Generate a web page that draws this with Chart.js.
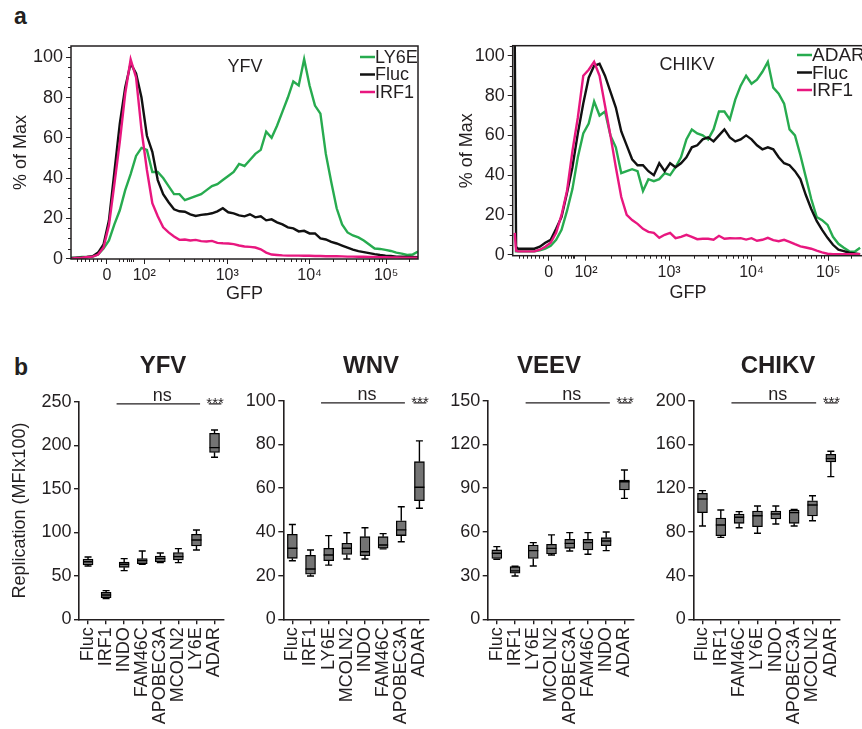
<!DOCTYPE html>
<html><head><meta charset="utf-8">
<script src="https://cdn.jsdelivr.net/npm/chart.js@4.4.1/dist/chart.umd.min.js"></script>
<style>
html,body{margin:0;padding:0;background:#fff;overflow:hidden;width:862px;height:729px;position:relative;font-family:"Liberation Sans",Arial,sans-serif;}
canvas{position:absolute;}
.lbl{position:absolute;font-weight:bold;font-size:23px;color:#231f20;line-height:1;}
</style></head><body>
<div class="lbl" style="left:14px;top:5px">a</div>
<div class="lbl" style="left:14px;top:356px">b</div>
<canvas id="hYFV" width="440" height="312" style="left:0px;top:0px"></canvas>
<canvas id="hCHIKV" width="440" height="312" style="left:440px;top:-1px"></canvas>
<canvas id="bYFV" width="240" height="389" style="left:0px;top:340px"></canvas>
<canvas id="bWNV" width="215" height="389" style="left:230px;top:340px"></canvas>
<canvas id="bVEEV" width="210" height="389" style="left:440px;top:340px"></canvas>
<canvas id="bCHIKV" width="217" height="389" style="left:645px;top:340px"></canvas>
<script>
const FONT = '"Liberation Sans", Arial, Helvetica, sans-serif';
const TXT = '#231f20';
const GREEN = '#27ab4f';
const PINK = '#e8177f';
const BLACK = '#111111';

// ---------- histogram axis (display channels of a biexponential GFP axis) ----------
const histTickValues = [106, 216, 461, 704, 930];
const histTickLabels = ['0', '10²', '10³', '10⁴', '10⁵'];
const histMinorTicks = [18, 30, 42, 54, 66, 78, 90, 142, 154, 164, 171, 177, 182,
  290, 333, 364, 387, 406, 422, 436, 449,
  533, 575, 605, 629, 648, 664, 678, 690,
  772, 811, 840, 862, 880, 895, 908, 919, 998];
const histYTicks = [0, 20, 40, 60, 80, 100];
const histYMinor = [5, 10, 15, 25, 30, 35, 45, 50, 55, 65, 70, 75, 85, 90, 95, 105];

// YFV histogram
const yfvChannels = [0,16,32,48,64,80,96,112,128,144,160,176,192,208,224,240,256,272,288,304,320,336,352,368,384,400,416,432,448,464,480,496,512,528,544,560,576,592,608,624,640,656,672,688,704,720,736,752,768,784,800,816,832,848,864,880,896,912,928,944,960,976,992,1008,1024];
const yfvLY6E = [0.3,0.5,0.8,0.8,1,2,5,9,17,24, 34,42,51,55,54,43,43,40,36,32, 32,29,30,31,32,34,36,37,39,41, 43,47,46,49,52,54,63,60,66,73, 80,88,86,99,86,76,72,52,38,25, 17,13,11.5,10.5,9,7,5,4.8,4.3,3.8, 3,2.5,1.8,2,3.5];
const yfvFluc = [0.3,0.5,0.5,0.8,1.2,3,7,19,43,67, 85,97,92,80,61,53,39,32,28,24.5, 23.5,23.3,22,21.2,21.7,22,22.5,23.5,25,23, 22.5,21.5,21,22,20.5,21,19,19.5,18,17, 15.5,15,13.5,13.8,12.5,12.5,10,9.5,8.3,7.5, 6.5,5.5,4.5,3.7,3.2,2.7,2.2,1.8,1.5,1.3, 1,1,0.8,0.8,0.7];
const yfvIRF1 = [0,0.3,0.5,0.8,1,2,5.5,16.5,37,58, 82,99,90,64,44,27.5,21,15.5,13,11, 9.3,9.5,9,9.3,8.7,8.5,8.8,7.8,7.6,7.5, 7.2,6.5,6,5.8,5.5,4.6,3,2,1.8,1.6, 1.5,1.5,1.5,1.4,1.4,1.3,1.3,1.2,1.2,1.2, 1.1,1,1,0.9,0.9,0.8,0.8,0.7,0.7,0.6, 0.6,0.5,0.5,0.5,0.5];

// CHIKV histogram
const chikvChannels = [6,10,16,32,48,64,80,96,112,128,144,160,176,192,208,224,240,256,272,288,304,320,336,352,368,384,400,416,432,448,464,480,496,512,528,544,560,576,592,608,624,640,656,672,688,704,720,736,752,768,784,800,816,832,848,864,880,896,912,928,944,960,976,992,1008,1024];
const chikvADAR = [1.7,1.7, 1.7,1.7,1.7,1.7,2.2,3,4.5,7.5,12.5, 22,33,49,61,66,77,70,72,60,54, 41,42,43,42,32,38,37,38,41,40, 44,49,58,63,61,60,58,63,72,72, 68,78,85,90,86,88,92,97,84,81, 76,63,60,50,39,28,19,17.4,15,9, 5.5,3.5,1.7,1.5,3.5];
const chikvFluc = [110,4, 3,3,3,3,4,6,7.5,13,19, 31,44,61,76,89,95,96,90,82,74, 62,55,48,45,45,42,40,46,42,46, 44,46,49,54,55,58,59,57,60,63, 59,57,58,60,58,55,53,54,53,49, 46,45,42,38,30,23,17,12.5,8.5,5, 2.5,1.8,1,0.6,0.3];
const chikvIRF1 = [11,2, 1.7,1.7,1.7,1.7,2.5,4,6,11,20, 32,52,69,90,93,97,90,75,60,44, 29,20,17.4,15.5,13,11.5,11,8.5,10,11, 8.3,9,10,9,7.8,8,8,7.5,9.5,8, 8.3,8.2,8.3,7.6,8.3,7,7.5,8.5,7.3,6.8, 7.5,6.5,5.3,4.2,3.6,3,2,1.2,0.5,0.3, 0.3,0.3,0.3,0.3,0.3];

// ---------- box plots (Replication, MFI x100) ----------
const yfvCats = ['Fluc','IRF1','INDO','FAM46C','APOBEC3A','MCOLN2','LY6E','ADAR'];
const yfvMin = [61.3,23.7,55.9,63.2,65.1,65.1,79.6,186.1];
const yfvQ1  = [62.4,24.9,59.7,63.9,65.8,68.1,84.2,191.8];
const yfvMed = [66.2,27.9,63.2,67.4,69.7,72.0,91.1,197.2];
const yfvQ3  = [69.3,31.0,65.8,69.7,72.7,76.6,97.6,213.6];
const yfvMax = [71.6,32.9,69.7,78.5,76.2,81.2,102.6,217.5];
const yfvTicks = [0,50,100,150,200,250];

const wnvCats = ['Fluc','IRF1','LY6E','MCOLN2','INDO','FAM46C','APOBEC3A','ADAR'];
const wnvMin = [26.8,19.8,24.8,27.6,27.6,32.2,35.5,50.8];
const wnvQ1  = [27.9,20.6,26.8,29.7,29.1,32.5,38.3,54.3];
const wnvMed = [32.5,23.0,29.4,32.5,30.9,34.0,40.9,60.4];
const wnvQ3  = [38.9,29.3,32.5,34.8,37.8,37.8,45.1,72.1];
const wnvMax = [43.4,31.7,38.3,39.6,41.9,39.2,51.5,81.6];
const wnvTicks = [0,20,40,60,80,100];

const veevCats = ['Fluc','IRF1','LY6E','MCOLN2','APOBEC3A','FAM46C','INDO','ADAR'];
const veevMin = [41.2,29.7,36.6,44.1,46.9,44.6,47.1,83.0];
const veevQ1  = [41.8,31.6,41.8,44.8,48.7,47.6,50.5,88.7];
const veevMed = [45.3,33.2,47.1,48.7,52.1,52.6,53.7,94.4];
const veevQ3  = [47.6,36.1,51.0,51.4,54.9,54.9,56.0,95.6];
const veevMax = [49.9,36.4,52.6,57.9,59.5,59.5,59.9,102.4];
const veevTicks = [0,30,60,90,120,150];

const chikvCats = ['Fluc','IRF1','FAM46C','LY6E','INDO','APOBEC3A','MCOLN2','ADAR'];
const chikvMin = [85.4,75.0,83.8,78.7,87.2,85.4,90.2,130.5];
const chikvQ1  = [97.6,76.5,87.8,84.8,91.8,87.8,94.5,143.9];
const chikvMed = [110.1,86.3,93.3,94.8,96.3,97.6,104.6,147.0];
const chikvQ3  = [115.2,92.7,96.3,99.1,99.1,100,108.5,150.9];
const chikvMax = [117.7,100,98.5,103.7,103.7,100.6,113.1,153.7];
const chikvTicks = [0,40,80,120,160,200];

// ---------- histogram builder ----------
function makeHistPlugin(cfg) {
  return {
    id: 'histDeco',
    afterDraw(chart) {
      const {ctx, chartArea: a, scales: {x, y}} = chart;
      ctx.save();
      ctx.strokeStyle = TXT;
      ctx.lineWidth = 1.5;
      ctx.strokeRect(a.left, a.top, a.right - a.left, a.bottom - a.top);
      ctx.lineWidth = 1;
      ctx.beginPath();
      histMinorTicks.forEach(v => {
        const px = Math.round(x.getPixelForValue(v)) + 0.5;
        if (px > a.right) return;
        ctx.moveTo(px, a.bottom); ctx.lineTo(px, a.bottom + 3);
      });
      histYMinor.forEach(v => {
        const py = Math.round(y.getPixelForValue(v)) + 0.5;
        if (py < a.top) return;
        ctx.moveTo(a.left, py); ctx.lineTo(a.left - 3, py);
      });
      ctx.stroke();
      ctx.fillStyle = TXT;
      ctx.font = '18px ' + FONT;
      ctx.textAlign = 'center';
      ctx.textBaseline = 'middle';
      ctx.fillText(cfg.name, cfg.nameX, cfg.nameY);
      ctx.textAlign = 'left';
      ctx.font = cfg.legFont + 'px ' + FONT;
      cfg.series.forEach((s, i) => {
        const yy = cfg.legY + i * 17.5;
        ctx.strokeStyle = s.color;
        ctx.lineWidth = 2.5;
        ctx.beginPath();
        ctx.moveTo(cfg.legX, yy); ctx.lineTo(cfg.legX + 15, yy);
        ctx.stroke();
        ctx.fillStyle = TXT;
        ctx.fillText(s.label, cfg.legX + 15, yy + 1);
      });
      ctx.restore();
    }
  };
}

function histChart(id, cfg) {
  return new Chart(document.getElementById(id), {
    type: 'line',
    data: {
      datasets: cfg.series.map(s => ({
        label: s.label,
        data: cfg.channels.map((c, i) => ({x: c, y: s.values[i]})),
        borderColor: s.color, borderWidth: 2.4, pointRadius: 0, tension: 0,
        fill: false, order: s.order
      }))
    },
    options: {
      responsive: false, animation: false,
      layout: {padding: {top: cfg.padTop, right: cfg.padRight, left: 0, bottom: 0}},
      plugins: {legend: {display: false}, tooltip: {enabled: false}},
      scales: {
        x: {
          type: 'linear', min: 0, max: cfg.xMax,
          afterBuildTicks: s => { s.ticks = histTickValues.map(v => ({value: v})); },
          afterFit: s => { s.height = cfg.xH; },
          ticks: {autoSkip: false, maxRotation: 0, padding: 2, font: {family: FONT, size: 16}, color: TXT,
                  callback: (v, i) => histTickLabels[i]},
          grid: {drawOnChartArea: false, drawTicks: true, tickLength: 5, color: TXT, lineWidth: 1},
          border: {display: false},
          title: {display: true, text: 'GFP', font: {family: FONT, size: 18}, color: TXT, padding: {top: 0, bottom: 7}}
        },
        y: {
          min: cfg.yMin, max: cfg.yMax,
          afterBuildTicks: s => { s.ticks = histYTicks.map(v => ({value: v})); },
          afterFit: s => { s.width = cfg.yW; },
          ticks: {padding: 3, font: {family: FONT, size: 18}, color: TXT},
          grid: {drawOnChartArea: false, drawTicks: true, tickLength: 5, color: TXT, lineWidth: 1},
          border: {display: false},
          title: {display: true, text: '% of Max', font: {family: FONT, size: 18}, color: TXT, padding: {top: cfg.yTitlePad, bottom: 0}}
        }
      }
    },
    plugins: [makeHistPlugin(cfg)]
  });
}

histChart('hYFV', {
  channels: yfvChannels,
  series: [
    {label: 'LY6E', values: yfvLY6E, color: GREEN, order: 2},
    {label: 'Fluc', values: yfvFluc, color: BLACK, order: 1},
    {label: 'IRF1', values: yfvIRF1, color: PINK, order: 0}
  ],
  padTop: 46, padRight: 22, xH: 53, yW: 71, xMax: 1024, yMin: -0.2, yMax: 105.6, yTitlePad: 10,
  name: 'YFV', nameX: 245, nameY: 67, legX: 360, legY: 57, legFont: 18
});

histChart('hCHIKV', {
  channels: chikvChannels,
  series: [
    {label: 'ADAR', values: chikvADAR, color: GREEN, order: 2},
    {label: 'Fluc', values: chikvFluc, color: BLACK, order: 1},
    {label: 'IRF1', values: chikvIRF1, color: PINK, order: 0}
  ],
  padTop: 46.7, padRight: 16.5, xH: 55.3, yW: 72.7, xMax: 1034, yMin: -0.5, yMax: 105.1, yTitlePad: 16,
  name: 'CHIKV', nameX: 247, nameY: 66, legX: 357, legY: 56, legFont: 19
});

// ---------- box plot builder ----------
function makeBoxPlugin(cfg) {
  return {
    id: 'boxDeco',
    afterDatasetsDraw(chart) {
      const {ctx, scales: {x, y}} = chart;
      const meta = chart.getDatasetMeta(0);
      ctx.save();
      ctx.strokeStyle = '#000';
      ctx.lineWidth = 1.4;
      cfg.cats.forEach((c, i) => {
        const el = meta.data[i];
        const xc = el.x;
        const hw = el.width / 2;
        const pMin = y.getPixelForValue(cfg.min[i]);
        const pQ1 = y.getPixelForValue(cfg.q1[i]);
        const pQ3 = y.getPixelForValue(cfg.q3[i]);
        const pMax = y.getPixelForValue(cfg.max[i]);
        const pMed = y.getPixelForValue(cfg.med[i]);
        ctx.beginPath();
        ctx.moveTo(xc, pQ3); ctx.lineTo(xc, pMax);
        ctx.moveTo(xc - 3.5, pMax); ctx.lineTo(xc + 3.5, pMax);
        ctx.moveTo(xc, pQ1); ctx.lineTo(xc, pMin);
        ctx.moveTo(xc - 3.5, pMin); ctx.lineTo(xc + 3.5, pMin);
        ctx.moveTo(xc - hw, pMed); ctx.lineTo(xc + hw, pMed);
        ctx.stroke();
      });
      // significance annotations
      const band = (x.getPixelForValue(1) - x.getPixelForValue(0));
      const ly = y.getPixelForValue(cfg.ticks[cfg.ticks.length - 1] * 0.99);
      ctx.strokeStyle = TXT;
      ctx.lineWidth = 1.4;
      const n1 = x.getPixelForValue(2) - 0.42 * band, n2 = x.getPixelForValue(6) + 0.2 * band;
      const s1 = x.getPixelForValue(7) - 0.32 * band, s2 = x.getPixelForValue(7) + 0.38 * band;
      ctx.beginPath();
      ctx.moveTo(n1, ly); ctx.lineTo(n2, ly);
      ctx.moveTo(s1, ly); ctx.lineTo(s2, ly);
      ctx.stroke();
      ctx.fillStyle = TXT;
      ctx.textAlign = 'center';
      ctx.textBaseline = 'alphabetic';
      ctx.font = '18px ' + FONT;
      ctx.fillText('ns', (n1 + n2) / 2 + 4, ly - 3);
      ctx.font = '15px ' + FONT;
      ctx.fillText('***', (s1 + s2) / 2, ly + 4);
      // panel title
      ctx.font = 'bold 24px ' + FONT;
      ctx.textBaseline = 'middle';
      ctx.fillText(cfg.name, cfg.nameX, 26);
      ctx.restore();
    }
  };
}

function boxChart(id, cfg) {
  return new Chart(document.getElementById(id), {
    type: 'bar',
    data: {
      labels: cfg.cats,
      datasets: [{
        data: cfg.q1.map((q, i) => [q, cfg.q3[i]]),
        backgroundColor: '#747474', borderColor: '#000', borderWidth: 1.3,
        borderSkipped: false, barThickness: 10
      }]
    },
    options: {
      responsive: false, animation: false,
      layout: {padding: {top: cfg.padTop, right: cfg.padRight, left: 0, bottom: 0}},
      plugins: {legend: {display: false}, tooltip: {enabled: false}},
      scales: {
        x: {
          offset: true,
          afterFit: s => { s.height = 109.7; },
          ticks: {autoSkip: false, maxRotation: 90, minRotation: 90, padding: 3,
                  font: {family: FONT, size: 18}, color: TXT},
          grid: {drawOnChartArea: false, offset: false, tickLength: 5, color: TXT, lineWidth: 1.4},
          border: {display: true, color: TXT, width: 1.6}
        },
        y: {
          min: 0, max: cfg.ticks[cfg.ticks.length - 1],
          afterBuildTicks: s => { s.ticks = cfg.ticks.map(v => ({value: v})); },
          afterFit: s => { s.width = cfg.yW; },
          ticks: {padding: 2.5, font: {family: FONT, size: 18}, color: TXT},
          grid: {drawOnChartArea: false, tickLength: 5, color: TXT, lineWidth: 1.4},
          border: {display: true, color: TXT, width: 1.6},
          title: {display: !!cfg.yTitle, text: cfg.yTitle || '', font: {family: FONT, size: 18}, color: TXT,
                  padding: {top: 9, bottom: 0}}
        }
      }
    },
    plugins: [makeBoxPlugin(cfg)]
  });
}

boxChart('bYFV', {name: 'YFV', nameX: 163, cats: yfvCats, min: yfvMin, q1: yfvQ1, med: yfvMed, q3: yfvQ3, max: yfvMax,
  ticks: yfvTicks, yW: 79, padTop: 61.7, padRight: 14, yTitle: 'Replication (MFIx100)'});
boxChart('bWNV', {name: 'WNV', nameX: 141, cats: wnvCats, min: wnvMin, q1: wnvQ1, med: wnvMed, q3: wnvQ3, max: wnvMax,
  ticks: wnvTicks, yW: 53.3, padTop: 60.7, padRight: 15.7});
boxChart('bVEEV', {name: 'VEEV', nameX: 109, cats: veevCats, min: veevMin, q1: veevQ1, med: veevMed, q3: veevQ3, max: veevMax,
  ticks: veevTicks, yW: 47.7, padTop: 60.7, padRight: 15.7});
boxChart('bCHIKV', {name: 'CHIKV', nameX: 133, cats: chikvCats, min: chikvMin, q1: chikvQ1, med: chikvMed, q3: chikvQ3, max: chikvMax,
  ticks: chikvTicks, yW: 48.3, padTop: 60.7, padRight: 22});
</script>
</body></html>
